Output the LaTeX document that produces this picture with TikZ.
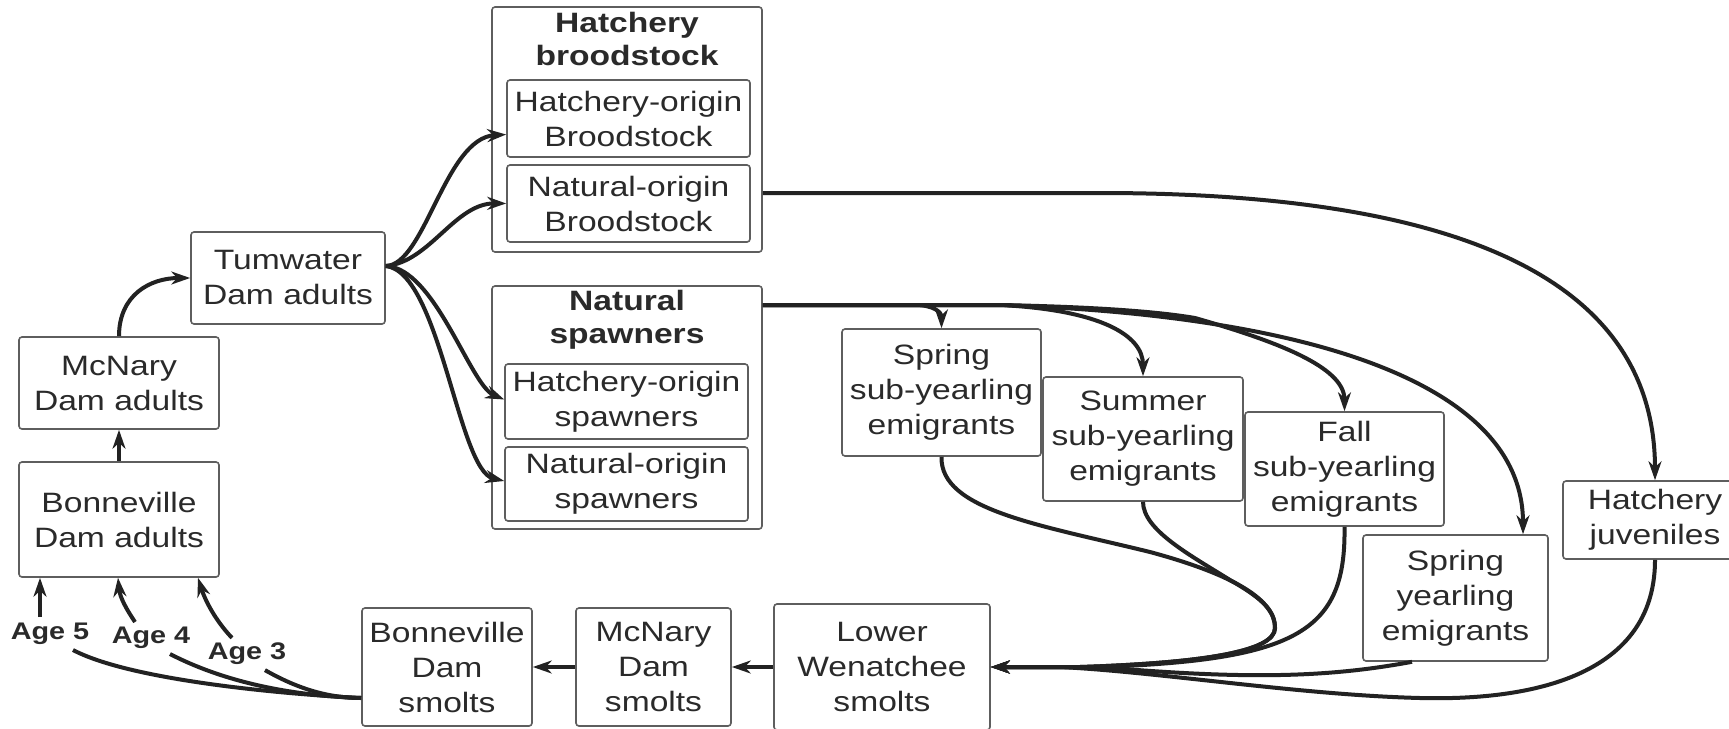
\documentclass[tikz,border=0pt]{standalone}
\usepackage{fontspec}
\setmainfont{Liberation Sans}[FakeStretch=1.2]
\usetikzlibrary{arrows.meta,calc}
\definecolor{txt}{HTML}{2A2A2A}
\definecolor{bord}{HTML}{5E5E5E}
\definecolor{lnc}{HTML}{222222}
\begin{document}
\begin{tikzpicture}[x=1pt,y=-1pt,
  box/.style={draw=bord,line width=1.6pt,rounded corners=3pt,inner sep=0pt,align=center,text=txt,font=\fontsize{28}{35}\selectfont},
  ttl/.style={inner sep=0pt,align=center,text=txt,font=\fontsize{28}{33}\selectfont\bfseries},
  agel/.style={inner sep=0pt,text=txt,font=\fontsize{24}{28}\selectfont\bfseries},
  conn/.style={draw=lnc,line width=4pt},
  arr/.style={conn,-{Stealth[length=19pt,width=13pt]}}]
\fill[white] (0,0) rectangle (1729,728);
\useasboundingbox (0,0) rectangle (1729,728);

% left column
\node[box,minimum width=194pt,minimum height=92pt] (tum) at (288,278) {Tumwater\\Dam adults};
\node[box,minimum width=200pt,minimum height=92pt] (mca) at (119,383) {McNary\\Dam adults};
\node[box,minimum width=200pt,minimum height=115pt] (boa) at (119,519.5) {Bonneville\\Dam adults};

% hatchery broodstock group
\node[box,minimum width=270pt,minimum height=245pt] (hb) at (627,129.5) {};
\node[ttl] (hbt) at (627,39) {Hatchery\\broodstock};
\node[box,minimum width=243pt,minimum height=77pt] (hob) at (628.5,118.5) {Hatchery-origin\\Broodstock};
\node[box,minimum width=243pt,minimum height=77pt] (nob) at (628.5,203.5) {Natural-origin\\Broodstock};

% natural spawners group
\node[box,minimum width=270pt,minimum height=243pt] (ns) at (627,407.5) {};
\node[ttl] (nst) at (627,319.5) {Natural\\spawners};
\node[box,minimum width=243pt,minimum height=75pt] (hos) at (626.5,401.5) {Hatchery-origin\\spawners};
\node[box,minimum width=243pt,minimum height=74pt] (nos) at (626.5,484) {Natural-origin\\spawners};

% emigrants
\node[box,minimum width=199pt,minimum height=127pt] (sse) at (941.5,392.5) {Spring\\sub-yearling\\emigrants};
\node[box,minimum width=200pt,minimum height=124pt] (sue) at (1143,439) {Summer\\sub-yearling\\emigrants};
\node[box,minimum width=199pt,minimum height=114pt] (fse) at (1344.5,469) {Fall\\sub-yearling\\emigrants};
\node[box,minimum width=185pt,minimum height=126pt] (sye) at (1455.5,598) {Spring\\yearling\\emigrants};
\node[box,minimum width=184pt,minimum height=78pt] (hj) at (1655,520) {Hatchery\\juveniles};

% smolts
\node[box,minimum width=216pt,minimum height=126pt] (lw) at (882,667) {Lower\\Wenatchee\\smolts};
\node[box,minimum width=155pt,minimum height=118pt] (ms) at (653.5,667) {McNary\\Dam\\smolts};
\node[box,minimum width=170pt,minimum height=118pt] (bs) at (447,667) {Bonneville\\Dam\\smolts};

% ages
\node[agel] (age5) at (50,634) {Age 5};
\node[agel] (age4) at (151,638) {Age 4};
\node[agel] (age3) at (247,654) {Age 3};

% upstream adult path
\draw[arr] (boa.north) -- (mca.south);
\draw[arr] (mca.north) .. controls (119,295) and (150,278) .. (tum.west);

% Tumwater fan
\coordinate (tx) at ([yshift=12pt]tum.east);
\draw[arr] (tx) .. controls (425,265) and (445,138) .. ([yshift=-16pt]hob.west);
\draw[arr] (tx) .. controls (430,262) and (455,203) .. (nob.west);
\draw[arr] (tx) .. controls (435,268) and (470,385) .. ([yshift=2pt]hos.west);
\draw[arr] (tx) .. controls (440,272) and (458,470) .. ([yshift=3pt]nos.west);

% broodstock -> hatchery juveniles
\draw[arr] ([yshift=-63.5pt]hb.east) -- (1100,193) .. controls (1500,193) and (1655,300) .. (hj.north);

% natural spawners -> emigrants
\coordinate (nsx) at ([yshift=102.5pt]ns.east);
\draw[arr] (nsx) -- (915,305) .. controls (933,305) and (941.5,312) .. (sse.north);
\draw[arr] (nsx) -- (1000,305) .. controls (1100,310) and (1143,335) .. (sue.north);
\draw[arr] (nsx) -- (1000,305) .. controls (1100,307) and (1160,312) .. (1195,318) .. controls (1290,345) and (1344.5,370) .. (fse.north);
\draw[arr] (nsx) -- (1000,305) .. controls (1300,315) and (1523,380) .. ([xshift=67.5pt]sye.north);

% emigrants -> Lower Wenatchee
\draw[arr] (sse.south) .. controls (940,510) and (1040,525) .. (1150,552) .. controls (1235,575) and (1275,600) .. (1275,628) .. controls (1275,652) and (1200,663) .. (1080,667) -- (lw.east);
\draw[arr] (sue.south) .. controls (1143,530) and (1190,555) .. (1230,580) .. controls (1265,600) and (1275,612) .. (1275,628) .. controls (1275,652) and (1200,663) .. (1080,667) -- (lw.east);
\draw[arr] (fse.south) .. controls (1346,630) and (1300,660) .. (1100,667) -- (lw.east);
\draw[arr] ([xshift=-43.5pt]sye.south) .. controls (1330,677) and (1250,680) .. (1100,667) -- (lw.east);
\draw[arr] (hj.south) .. controls (1655,690) and (1500,700) .. (1420,698) .. controls (1300,695) and (1160,672) .. (1060,667) -- (lw.east);

% smolts downstream
\draw[arr] (lw.west) -- (ms.east);
\draw[arr] (ms.west) -- (bs.east);

% smolts -> ages
\coordinate (bx) at ([yshift=-31pt]bs.west);
\draw[conn] (bx) .. controls (330,698) and (300,690) .. ([xshift=18pt,yshift=-5pt]age3.south);
\draw[conn] (bx) .. controls (300,696) and (230,685) .. ([xshift=19pt,yshift=-5pt]age4.south);
\draw[conn] (bx) .. controls (280,694) and (130,680) .. ([xshift=23pt,yshift=-5pt]age5.south);

% ages -> Bonneville adults
\draw[arr] ([xshift=-10pt,yshift=6pt]age5.north) -- ([xshift=-79pt]boa.south);
\draw[arr] ([xshift=-16pt,yshift=5pt]age4.north) .. controls (127,610) and (120,598) .. ([xshift=-1pt]boa.south);
\draw[arr] ([xshift=-15pt,yshift=5pt]age3.north) .. controls (215,620) and (205,600) .. ([xshift=79pt]boa.south);
\end{tikzpicture}
\end{document}
